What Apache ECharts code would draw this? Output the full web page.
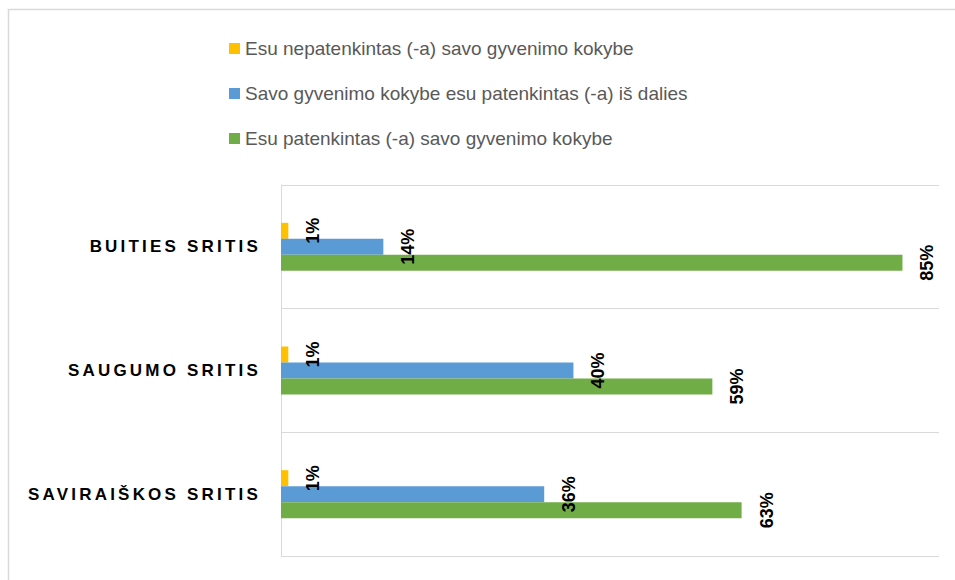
<!DOCTYPE html>
<html>
<head>
<meta charset="utf-8">
<script src="https://cdn.jsdelivr.net/npm/echarts@6/dist/echarts.min.js"></script>
<style>
html,body{margin:0;padding:0;background:#fff;}
#main{width:955px;height:580px;}
</style>
</head>
<body>
<div id="main"></div>
<script>
var categories = ['BUITIES SRITIS', 'SAUGUMO SRITIS', 'SAVIRAIŠKOS SRITIS'];
var seriesNames = [
	'Esu nepatenkintas (-a) savo gyvenimo kokybe',
	'Savo gyvenimo kokybe esu patenkintas (-a) iš dalies',
	'Esu patenkintas (-a) savo gyvenimo kokybe'
];
var dissatisfied = [1, 1, 1];
var partlySatisfied = [14, 40, 36];
var satisfied = [85, 59, 63];
var colors = ['#FFC000', '#5B9BD5', '#70AD47'];

window.onload = function(){
	var myChart = echarts.init(document.getElementById('main'), null, {renderer: 'svg'});

	function barSeries(name, data){
		return {
			name: name,
			type: 'bar',
			data: data,
			barWidth: 16,
			barGap: '0%',
			label: {
				show: true,
				position: 'right',
				distance: 25,
				rotate: 90,
				align: 'center',
				verticalAlign: 'middle',
				formatter: '{c}%',
				color: '#000',
				fontSize: 18,
				fontWeight: 'bold',
				fontFamily: 'Liberation Sans'
			}
		};
	}

	// spread out the category letters like the original
	myChart.on('finished', function(){
		var texts = document.querySelectorAll('#main svg text');
		for (var i = 0; i < texts.length; i++) {
			if (categories.indexOf(texts[i].textContent) >= 0) {
				texts[i].style.letterSpacing = '3.2px';
			}
		}
	});

	var option = {
		animation: false,
		color: colors,
		legend: {
			orient: 'vertical',
			left: 224,
			top: 34,
			itemWidth: 11,
			itemHeight: 11,
			itemGap: 26,
			icon: 'rect',
			data: seriesNames,
			textStyle: {
				fontSize: 19,
				color: '#595959',
				fontFamily: 'Liberation Sans'
			}
		},
		grid: {
			left: 281,
			right: 16,
			top: 185,
			bottom: 24
		},
		xAxis: {
			type: 'value',
			min: 0,
			max: 90,
			show: false
		},
		yAxis: {
			type: 'category',
			inverse: true,
			data: categories,
			axisLine: {show: true, lineStyle: {color: '#D9D9D9', width: 1}},
			axisTick: {show: false},
			splitLine: {show: true, lineStyle: {color: '#D9D9D9', width: 1}},
			axisLabel: {
				margin: 20,
				color: '#000',
				fontSize: 17,
				fontWeight: 'bold',
				fontFamily: 'Liberation Sans'
			}
		},
		graphic: [{
			type: 'rect',
			shape: {x: 8.5, y: 9.5, width: 1000, height: 1000},
			style: {fill: 'none', stroke: '#D9D9D9', lineWidth: 1.5},
			silent: true
		}],
		series: [
			barSeries(seriesNames[0], dissatisfied),
			barSeries(seriesNames[1], partlySatisfied),
			barSeries(seriesNames[2], satisfied)
		]
	};
	myChart.setOption(option);
}
</script>
</body>
</html>
